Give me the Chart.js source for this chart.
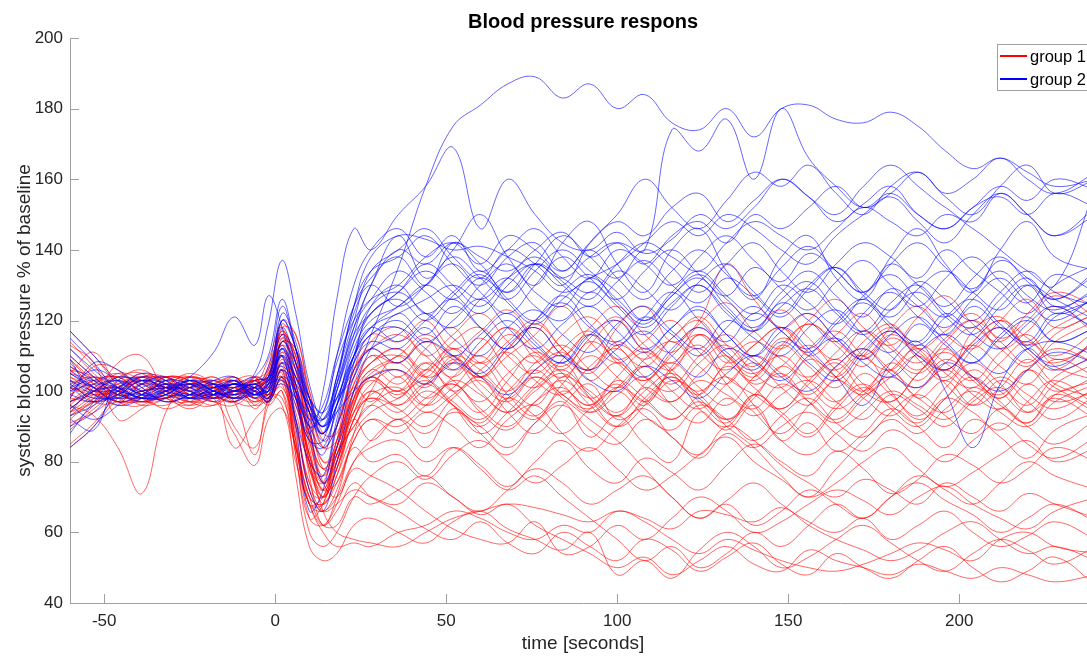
<!DOCTYPE html>
<html>
<head>
<meta charset="utf-8">
<title>Blood pressure respons</title>
<script src="https://cdn.jsdelivr.net/npm/chart.js@4.4.1/dist/chart.umd.min.js"></script>
<style>
    html, body { margin: 0; padding: 0; background: #fff; overflow: hidden; }
    #wrap { width: 1096px; height: 657px; }
</style>
</head>
<body>
<div id="wrap"><canvas id="bpChart"></canvas></div>
<script>
// sample times (seconds) shared by every subject curve
const times = [-60,-53,-46,-39,-32,-25,-18,-12,-6,-2,2,6,10,14,18,23,28,36,44,52,60,68,76,84,92,100,108,116,124,132,140,148,156,164,172,180,188,196,204,212,220,228,240];

const xTicks = [-50, 0, 50, 100, 150, 200];
const yTicks = [40, 60, 80, 100, 120, 140, 160, 180, 200];
const groupNames = ['group 1', 'group 2'];

// group 1 (red), one row per subject, % of baseline
const group1 = [
    [108,101,97,99,104,102,98,100,103,101, 111,100,78,74,90,101,97, 104,96,101,108,99,93,102,110,104,97,103,99,92,98,107,101,95,100,106,98,103,96,101,109,102,98],
    [94,99,105,103,98,96,101,104,99,106, 117,108,84,72,86,106,112, 108,115,106,112,118,109,104,113,120,111,106,116,109,103,112,119,113,107,115,110,104,117,121,112,108,114],
    [113,108,92,95,100,104,101,97,96,100, 104,82,64,68,82,92,86, 92,84,95,88,82,91,97,87,93,85,80,94,89,96,86,91,83,88,95,90,84,92,87,81,89,94],
    [90,96,103,106,101,97,98,102,95,99, 96,80,68,62,66,74,70, 66,61,58,63,57,54,60,56,52,58,55,49,53,57,51,48,54,50,47,52,56,50,46,49,53,45],
    [96,93,84,71,94,102,100,97,101,105, 113,108,94,80,82,96,104, 98,106,100,94,103,111,105,98,102,96,107,113,104,99,95,102,108,100,97,105,112,103,99,106,101,95],
    [99,103,104,99,95,98,102,104,100,96, 100,76,56,52,54,62,64, 60,57,63,66,61,58,55,60,48,52,47,55,60,56,50,53,58,62,57,52,49,54,58,55,51,56],
    [102,98,101,105,102,97,96,101,99,103, 110,98,80,66,60,58,57, 56,60,64,66,68,67,65,63,66,64,61,66,65,63,67,62,58,55,52,55,60,63,58,54,56,52],
    [97,102,104,98,96,101,104,99,103,104, 116,110,90,74,70,78,76, 72,66,61,58,57,63,54,56,62,58,64,70,66,60,63,68,72,69,65,70,73,68,64,61,66,70],
    [85,91,99,104,103,98,100,103,96,98, 103,96,82,72,74,84,80, 82,76,84,79,73,80,86,78,74,81,77,72,79,85,80,76,83,78,71,75,82,79,74,78,84,80],
    [104,101,97,99,103,104,99,97,103,106, 119,112,94,78,80,98,110, 104,112,118,108,114,120,112,106,118,124,114,120,136,126,118,122,115,110,118,124,116,112,120,126,118,122],
    [92,98,108,110,100,96,99,104,98,101, 107,92,72,70,84,94,98, 95,90,98,103,94,88,96,102,92,97,104,95,90,99,93,87,95,101,96,91,98,94,89,97,103,96],
    [109,103,97,96,101,105,101,84,92,97, 108,88,70,68,74,86,92, 88,94,90,84,92,96,88,83,90,95,87,82,90,86,79,74,70,75,72,68,74,70,66,71,68,64],
    [114,107,101,97,98,103,103,99,97,102, 114,112,100,88,88,102,108, 112,106,114,118,110,105,112,117,109,114,120,111,106,113,118,110,116,122,113,108,115,120,112,117,124,116],
    [97,100,104,105,99,95,99,103,104,98, 102,84,68,68,82,90,96, 100,94,99,104,97,92,100,96,103,98,92,97,90,84,76,70,78,86,92,88,95,100,94,90,97,102],
    [106,100,96,99,104,103,98,88,79,92, 95,84,70,62,62,70,68, 72,76,70,66,72,78,74,68,72,76,70,64,69,74,68,63,60,64,58,62,66,60,56,59,63,58],
    [93,98,101,104,102,100,97,96,101,109, 118,100,78,70,78,92,100, 96,102,96,90,98,104,98,92,86,78,70,64,68,62,66,72,68,64,70,74,69,65,60,64,68,63],
    [103,97,97,102,104,100,98,101,103,104, 116,110,88,74,80,96,106, 102,108,100,106,111,103,99,107,112,104,100,108,113,105,101,109,104,99,106,112,105,101,108,114,107,103],
    [96,102,105,101,97,99,103,102,98,97, 106,86,68,70,82,90,96, 92,98,102,95,90,97,101,94,99,104,96,91,98,93,99,103,97,92,99,95,90,97,101,94,98,92],
    [107,102,99,97,100,104,102,100,100,104, 120,116,100,86,90,106,116, 114,120,112,117,123,115,110,118,124,116,111,119,125,117,112,120,126,118,113,121,127,119,114,122,128,124],
    [101,99,100,104,103,99,96,100,104,97, 100,84,68,66,70,80,84, 86,80,84,78,72,76,70,64,58,52,56,50,54,60,56,62,68,64,70,76,72,68,74,80,76,72],
    [110,104,99,100,104,103,99,97,102,103, 113,102,82,70,78,96,104, 106,101,109,104,98,106,111,103,108,101,97,105,110,102,107,113,106,100,108,103,109,104,98,106,112,108],
    [93,97,102,104,100,97,100,103,99,102, 105,90,74,66,68,72,70, 68,74,70,65,68,62,58,54,50,53,48,52,56,51,49,55,52,50,48,51,49,47,50,48,46,48],
    [102,104,100,97,100,104,102,98,103,101, 115,110,92,80,84,100,108, 110,104,112,108,116,111,106,114,109,103,110,116,108,113,118,111,106,114,119,112,117,122,115,120,127,121],
    [91,94,99,104,104,99,98,102,100,97, 110,100,80,68,76,92,98, 94,100,96,91,98,93,88,95,100,93,89,96,92,86,93,98,91,87,94,99,93,88,95,90,85,92],
    [109,102,97,98,102,104,101,97,82,98, 104,86,64,62,68,80,86, 92,88,94,90,84,91,96,89,85,92,87,81,88,84,90,94,88,83,89,85,80,86,91,85,81,87],
    [95,100,104,102,98,97,102,103,99,100, 118,116,98,84,86,102,110, 108,114,109,104,112,118,110,105,113,108,102,110,116,109,104,112,117,110,106,113,108,103,111,116,109,113],
    [105,111,101,96,98,102,101,99,102,98, 109,98,76,62,70,88,100, 110,104,96,88,94,102,108,98,90,96,106,112,102,94,88,96,104,110,100,92,98,106,100,94,102,108],
    [89,95,100,103,101,100,99,101,97,100, 106,100,82,72,78,92,99, 101,96,103,99,94,100,105,98,93,101,97,103,99,95,102,97,92,99,104,98,94,101,96,91,99,103],
    [104,100,99,98,102,101,97,99,103,99, 106,82,60,56,60,70,76, 80,75,82,86,80,74,79,84,78,72,76,82,87,80,75,70,74,80,84,78,73,77,82,86,80,84],
    [97,99,100,103,104,99,100,98,100,105, 115,106,88,78,84,98,104, 100,106,112,104,110,116,124,114,108,112,106,100,108,114,109,104,111,117,110,105,112,118,112,107,114,120],
    [106,104,98,97,101,102,102,90,84,96, 103,86,70,68,76,88,94, 98,103,97,92,100,106,99,95,101,97,92,99,104,96,86,82,88,94,100,96,92,98,104,99,95,101],
    [84,90,98,103,101,99,99,102,98,99, 98,84,68,60,56,57,56, 60,62,66,64,60,58,62,60,66,63,58,54,58,55,52,50,49,51,54,57,55,52,58,60,56,54],
    [117,110,102,98,98,101,104,100,101,104, 114,112,96,84,90,106,112, 116,110,104,112,118,112,107,115,121,113,108,116,110,105,113,119,114,109,116,111,106,114,120,115,110,117],
    [98,107,106,99,98,100,102,101,103,99, 108,100,82,74,82,97,103, 99,105,110,102,97,104,99,94,101,107,100,95,102,108,101,96,103,98,93,100,106,99,95,102,97,100],
    [101,100,102,103,100,97,99,103,101,102, 113,100,78,72,84,100,108, 112,104,108,115,106,101,109,116,108,103,111,118,110,104,113,107,101,110,117,109,103,112,118,111,106,115],
    [95,100,103,100,98,102,102,98,104,103, 106,94,80,76,86,98,104, 100,108,103,97,105,110,102,96,104,111,105,99,107,101,95,103,109,102,97,105,111,104,98,106,100,104],
    [103,101,98,99,103,102,98,99,99,107, 116,102,80,70,78,94,102, 106,98,104,110,102,96,104,100,94,102,108,101,96,104,110,103,97,105,99,93,101,108,102,96,104,110],
    [99,103,104,100,98,101,101,102,103,99, 111,104,86,76,84,100,106, 110,116,110,104,112,119,112,106,114,109,115,121,113,107,115,110,104,112,118,112,106,114,120,113,118,124],
    [112,105,99,100,102,99,100,101,97,99, 101,90,74,70,80,94,100, 96,102,108,100,94,101,106,99,93,100,105,98,92,99,105,97,91,98,104,110,102,96,103,97,92,99],
    [98,97,99,102,104,103,99,100,101,104, 117,108,88,78,86,104,114, 118,110,116,122,114,108,116,121,113,107,115,120,112,117,123,115,109,117,112,106,114,120,114,108,116,122],
    [105,103,99,100,101,101,103,100,100,97, 104,92,72,66,72,86,92, 90,96,102,94,89,97,103,96,90,98,104,97,91,99,94,88,96,102,95,90,98,104,97,91,99,94],
    [94,97,101,102,100,102,98,100,102,103, 114,106,86,74,80,98,105, 108,102,110,106,100,108,113,106,101,109,114,107,102,110,105,99,107,112,106,101,108,113,107,102,109,104]
];

// group 2 (blue)
const group2 = [
    [103,99,98,101,103,101,98,100,99,102, 110,100,90,92,98,104,116, 135,158,175,181,187,189,183,187,180,184,176,174,180,172,180,181,177,176,179,175,168,163,166,162,158,160],
    [95,100,103,100,97,99,103,104,99,101, 112,98,88,100,126,146,140, 150,158,169,146,160,150,142,140,145,139,143,150,146,152,160,155,148,153,158,150,146,152,155,150,156,152],
    [101,97,99,103,102,98,99,103,98,103, 116,108,96,88,100,116,130, 140,136,142,138,134,140,145,138,142,140,174,168,177,160,180,166,158,152,156,150,146,152,158,154,160,157],
    [110,104,99,98,101,103,102,99,101,100, 120,112,98,90,104,120,134, 140,146,138,132,140,136,130,142,150,160,152,146,154,162,158,164,156,150,158,162,155,150,158,164,156,160],
    [92,89,103,103,99,98,101,102,104,103, 112,102,90,94,108,120,126, 130,138,142,136,144,140,134,142,148,144,152,156,148,154,160,155,150,158,164,158,152,148,156,150,144,152],
    [105,101,96,98,103,102,99,97,100,98, 106,100,88,82,96,112,120, 124,130,126,132,128,136,132,128,136,142,138,134,142,148,144,140,146,152,148,144,150,146,140,134,130,158],
    [84,90,100,105,103,98,99,102,98,104, 120,112,90,74,84,108,124, 130,122,128,134,126,120,128,133,125,119,127,132,124,118,126,131,123,117,125,130,122,118,126,132,124,128],
    [115,108,100,97,99,102,101,102,100,97, 104,92,80,76,92,110,118, 114,120,126,118,112,120,127,119,113,121,128,120,114,122,117,111,119,125,118,113,121,126,119,114,122,118],
    [98,108,106,101,97,99,101,100,104,110, 126,112,96,90,100,114,122, 128,136,130,124,132,138,131,126,134,129,123,131,136,128,122,130,135,127,121,129,134,128,123,130,126,120],
    [96,92,96,102,104,100,98,102,99,102, 103,98,90,84,90,104,112, 108,114,110,105,113,118,110,106,112,117,110,104,112,108,103,110,115,108,104,111,116,110,105,112,114,110],
    [100,104,101,98,100,104,111,121,113,127, 118,102,92,96,110,124,132, 138,130,142,136,128,136,144,138,132,140,135,128,136,142,134,128,136,142,138,132,140,134,128,122,130,136],
    [106,101,97,99,102,100,102,101,105,119, 137,122,102,92,102,118,126, 134,128,122,130,136,128,124,132,126,120,128,134,127,122,130,125,119,127,133,126,121,128,134,127,123,129],
    [88,97,104,102,99,99,100,102,101,98, 108,104,94,86,94,108,116, 118,112,106,114,120,113,108,116,110,104,112,118,111,106,114,108,103,111,117,110,106,113,118,112,107,114],
    [117,110,103,99,99,103,100,98,99,102, 110,92,72,66,80,100,112, 122,116,124,118,112,120,125,118,114,121,116,110,118,124,117,112,120,126,119,114,122,116,112,119,124,117],
    [103,100,100,98,98,101,103,100,102,100, 114,106,94,88,104,124,138, 144,143,140,141,138,134,128,132,136,142,148,144,150,146,140,136,144,150,155,148,142,150,156,150,144,150],
    [94,101,103,99,100,103,100,98,101,97, 104,100,92,88,96,106,112, 116,122,115,110,118,123,116,111,119,124,117,112,120,115,110,118,123,116,111,119,113,108,116,121,114,118],
    [109,99,98,102,101,101,102,98,101,103, 112,104,96,92,98,110,118, 124,130,136,128,122,130,138,132,126,134,140,133,127,135,129,123,131,137,130,124,132,138,131,125,133,128],
    [101,106,103,99,100,98,101,103,99,102, 122,114,98,88,100,118,130, 144,132,140,150,138,130,142,148,136,128,140,146,134,126,138,144,132,126,138,146,136,128,140,148,138,134],
    [97,100,101,100,102,101,99,102,99,100, 102,98,94,90,94,100,104, 106,102,108,104,99,106,110,103,100,107,103,98,105,110,104,100,107,112,105,101,108,104,100,106,111,108],
    [105,101,101,98,99,103,100,99,103,104, 110,90,66,72,90,110,122, 126,120,127,133,125,119,126,131,124,118,125,130,123,117,124,129,122,116,123,128,121,116,124,130,122,126],
    [90,94,101,104,100,99,102,100,101,97, 112,106,98,94,102,116,122, 128,134,128,122,130,136,130,124,131,137,130,125,132,127,121,129,135,128,123,131,126,120,128,134,128,124],
    [101,103,100,99,101,100,97,101,102,104, 107,102,96,90,96,110,118, 122,126,130,126,132,136,132,138,142,136,144,148,142,150,146,152,158,152,156,162,156,160,166,160,156,162],
    [112,106,101,98,100,102,99,100,102,99, 114,108,98,90,98,110,116, 120,114,120,126,118,112,119,124,117,111,118,123,116,110,117,122,115,109,116,121,114,108,115,120,114,118],
    [99,97,100,104,102,98,100,103,100,100, 110,104,94,88,96,108,114, 112,118,110,116,122,114,108,116,120,112,118,124,116,110,118,112,104,96,108,114,100,84,102,112,106,110],
    [107,103,98,100,101,102,100,99,101,107, 124,112,98,94,110,130,140, 146,138,144,134,140,146,138,132,140,136,130,138,144,137,131,139,134,128,136,142,135,129,137,132,126,134],
    [93,96,101,103,101,99,99,100,102,100, 108,98,86,86,102,124,134, 138,144,136,130,138,142,134,140,132,126,134,140,133,127,135,141,134,128,136,130,124,132,138,131,126,133],
    [100,102,101,98,99,103,100,98,100,104, 118,108,94,92,104,122,130, 124,130,138,132,126,134,140,134,128,120,127,133,126,120,128,134,127,121,129,124,118,126,132,125,120,127],
    [102,98,99,103,101,98,101,102,101,98, 106,96,86,84,96,114,124, 128,122,118,126,132,124,120,128,122,116,124,130,122,117,125,120,114,122,128,121,116,124,118,113,121,126]
];

const redLine = 'rgba(255, 0, 0, 0.6)';
const blueLine = 'rgba(0, 0, 255, 0.6)';
const axisGray = '#a0a0a0';
const textGray = '#262626';
const fontFamily = '"Liberation Sans", Arial, Helvetica, sans-serif';

function makeSet(label, values, color) {
    return {
        label: label,
        data: times.map((t, i) => ({ x: t, y: values[i] })),
        borderColor: color,
        borderWidth: 1,
        pointRadius: 0,
        tension: 0.4,
        fill: false
    };
}

// blue first so it is painted on top of the red bundle
const datasets = [
    ...group2.map(v => makeSet(groupNames[1], v, blueLine)),
    ...group1.map(v => makeSet(groupNames[0], v, redLine))
];

// inward ticks, title and the boxed legend (MATLAB style)
const decor = {
    id: 'decor',
    afterDraw(chart) {
        const { ctx, chartArea: area, scales: { x, y } } = chart;
        ctx.save();

        ctx.strokeStyle = axisGray;
        ctx.lineWidth = 1;
        ctx.beginPath();
        xTicks.forEach(v => {
            const px = Math.round(x.getPixelForValue(v)) + 0.5;
            ctx.moveTo(px, area.bottom);
            ctx.lineTo(px, area.bottom - 9);
        });
        yTicks.forEach(v => {
            const py = Math.round(y.getPixelForValue(v)) + 0.5;
            ctx.moveTo(area.left, py);
            ctx.lineTo(area.left + 9, py);
        });
        ctx.stroke();

        // title
        ctx.fillStyle = '#000';
        ctx.font = 'bold 20px ' + fontFamily;
        ctx.textAlign = 'center';
        ctx.textBaseline = 'middle';
        ctx.fillText('Blood pressure respons', (area.left + area.right) / 2, 22);

        // legend
        const bx = 997.5, by = 44.5, bw = 96, bh = 46;
        ctx.fillStyle = '#fff';
        ctx.fillRect(bx, by, bw, bh);
        ctx.strokeStyle = axisGray;
        ctx.strokeRect(bx, by, bw, bh);
        const rows = [[groupNames[0], 'rgb(255,0,0)', 56], [groupNames[1], 'rgb(0,0,255)', 79]];
        ctx.font = '16.5px ' + fontFamily;
        ctx.textAlign = 'left';
        rows.forEach(([name, col, ry]) => {
            ctx.strokeStyle = col;
            ctx.lineWidth = 2;
            ctx.beginPath();
            ctx.moveTo(1000, ry);
            ctx.lineTo(1027, ry);
            ctx.stroke();
            ctx.fillStyle = '#000';
            ctx.fillText(name, 1030, ry + 1);
        });
        ctx.restore();
    }
};

new Chart(document.getElementById('bpChart'), {
    type: 'line',
    data: { datasets: datasets },
    options: {
        responsive: true,
        maintainAspectRatio: false,
        devicePixelRatio: 1,
        animation: false,
        layout: { padding: { top: 38, left: 0, right: 0, bottom: 0 } },
        plugins: {
            legend: { display: false },
            tooltip: { enabled: false },
            title: { display: false }
        },
        scales: {
            x: {
                type: 'linear',
                min: -60,
                max: 240,
                afterBuildTicks: s => { s.ticks = xTicks.map(v => ({ value: v })); },
                afterFit: s => { s.height = 54; },
                ticks: {
                    color: textGray,
                    font: { family: fontFamily, size: 17 },
                    padding: 8,
                    maxRotation: 0,
                    autoSkip: false
                },
                grid: { drawOnChartArea: false, drawTicks: false },
                border: { display: true, color: axisGray, width: 1 },
                title: {
                    display: true,
                    text: 'time [seconds]',
                    color: textGray,
                    font: { family: fontFamily, size: 19 },
                    padding: { top: 0, bottom: 2 }
                }
            },
            y: {
                type: 'linear',
                min: 40,
                max: 200,
                afterBuildTicks: s => { s.ticks = yTicks.map(v => ({ value: v })); },
                afterFit: s => { s.width = 70; },
                ticks: {
                    color: textGray,
                    font: { family: fontFamily, size: 17 },
                    padding: 7
                },
                grid: { drawOnChartArea: false, drawTicks: false },
                border: { display: true, color: axisGray, width: 1 },
                title: {
                    display: true,
                    text: 'systolic blood pressure % of baseline',
                    color: textGray,
                    font: { family: fontFamily, size: 19 },
                    padding: { top: 13, bottom: 0 }
                }
            }
        }
    },
    plugins: [decor]
});
</script>
</body>
</html>
